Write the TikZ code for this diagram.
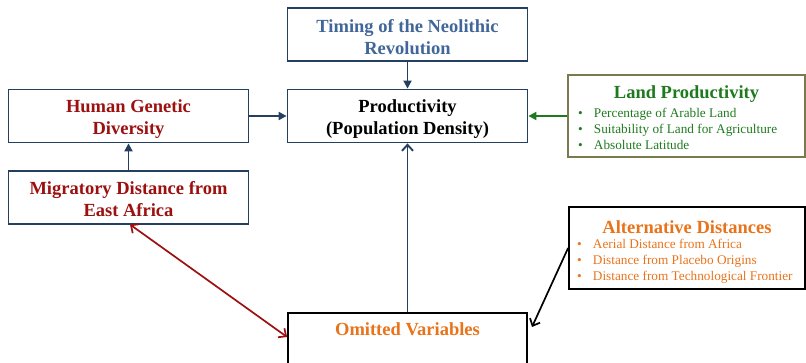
\documentclass[tikz,border=0pt]{standalone}
\usepackage{fontspec}
\setmainfont{Liberation Serif}
\usetikzlibrary{arrows.meta}
\definecolor{navy}{HTML}{243F60}
\definecolor{dred}{HTML}{9C1010}
\definecolor{tblue}{HTML}{41669A}
\definecolor{lgreen}{HTML}{1F7A1F}
\definecolor{orng}{HTML}{E8731A}
\definecolor{olive}{HTML}{7A7B4C}
\tikzset{
  box/.style={draw=navy, line width=1.8pt, rectangle, minimum width=240pt, minimum height=53pt, inner sep=0pt},
  btext/.style={align=center, inner sep=0pt, font=\fontsize{18.5}{22}\selectfont\bfseries, yshift=-3pt},
  listbox/.style={draw, line width=1.8pt, rectangle, minimum width=237pt, minimum height=82pt, inner sep=0pt},
  ltext/.style={inner sep=0pt, font=\fontsize{13.25}{16}\selectfont, yshift=-4pt},
  arr/.style={navy, line width=1.9pt, -{Triangle[length=8pt,width=8pt]}},
  barb/.style={line width=1.7pt, {Straight Barb[length=6pt,width=11pt]}-{Straight Barb[length=6pt,width=11pt]}},
}
\newcommand{\bitem}[1]{\makebox[16pt][l]{\textbullet}#1}
\newcommand{\ltitle}[2]{\makebox[#1][c]{\fontsize{18.5}{22}\selectfont\bfseries #2}}
\begin{document}
\begin{tikzpicture}[x=1pt,y=-1pt]
\useasboundingbox (0,0) rectangle (806,363);
\clip (0,0) rectangle (806,363);
\node[box, label={[btext, text=tblue]center:{Timing of the Neolithic\\Revolution}}] (timing) at (407.5,34.5) {};
\node[box, label={[btext, text=black]center:{Productivity\\(Population Density)}}] (prod) at (407.5,116) {};
\node[box, label={[btext, text=dred]center:{Human Genetic\\Diversity}}] (hgd) at (128.5,116) {};
\node[box, label={[btext, text=dred, yshift=1pt]center:{Migratory Distance from\\East Africa}}] (mig) at (128.5,197.5) {};
\node[listbox, draw=olive, label={[ltext, text=lgreen]center:{%
  \begin{tabular}{@{}l@{}}
  \ltitle{217pt}{Land Productivity}\\[3pt]
  \bitem{Percentage of Arable Land}\\
  \bitem{Suitability of Land for Agriculture}\\
  \bitem{Absolute Latitude}
  \end{tabular}}}] (land) at (686.5,116) {};
\node[listbox, draw=black, minimum width=236pt, label={[ltext, text=orng, yshift=-1pt]center:{%
  \begin{tabular}{@{}l@{}}
  \ltitle{220pt}{Alternative Distances}\\[-1pt]
  \bitem{Aerial Distance from Africa}\\
  \bitem{Distance from Placebo Origins}\\
  \bitem{Distance from Technological Frontier}
  \end{tabular}}}] (alt) at (687,248) {};
\node[draw=black, line width=1.8pt, rectangle, minimum width=239pt, minimum height=90pt, anchor=north, inner sep=0pt,
  label={[anchor=north, text=orng, font=\fontsize{18.5}{22}\selectfont\bfseries, yshift=-7pt]north:Omitted Variables}] (omit) at (407.5,312) {};
\draw[arr] (timing.south) -- (prod.north);
\draw[arr] (hgd.east) -- (prod.west);
\draw[arr] (mig.north) -- (hgd.south);
\draw[arr, lgreen] (land.west) -- (prod.east);
\draw[navy, line width=1.9pt, -{Straight Barb[length=6pt,width=11pt]}] (omit.north) -- (prod.south);
\draw[barb, dred] (130,224.5) -- (omit.west |- 0,337);
\coordinate (altstart) at (alt.west |- 0,248);
\coordinate (omitend) at (532,327);
\draw[line width=1.7pt, -{Straight Barb[length=6pt,width=11pt]}] (altstart) -- (omitend);
\end{tikzpicture}
\end{document}
